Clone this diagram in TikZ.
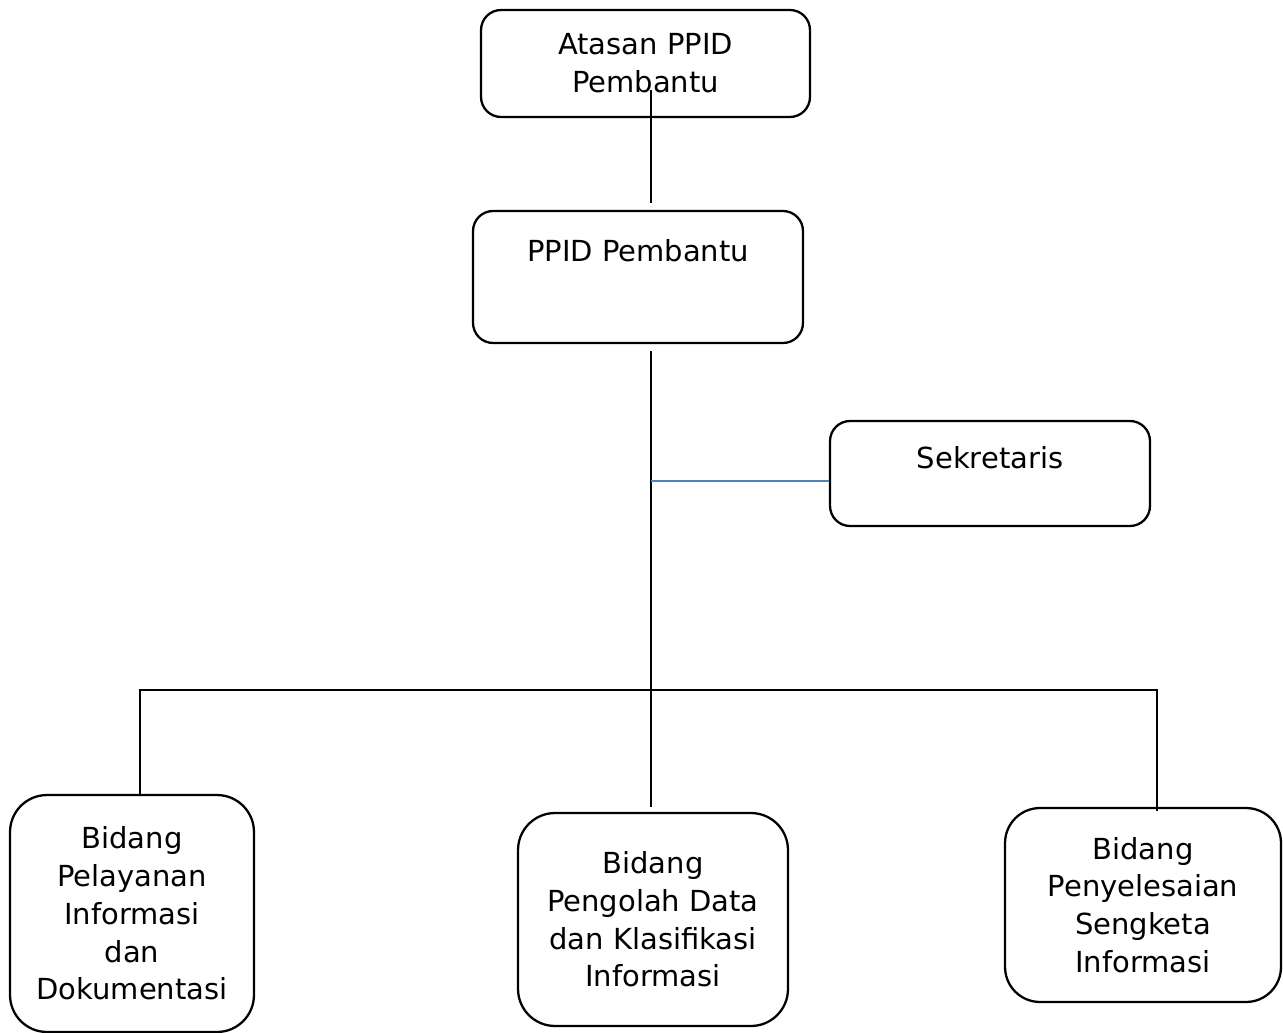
\documentclass[tikz,border=0pt]{standalone}
\usepackage{fontspec}
\setmainfont{DejaVu Sans}
\definecolor{sekblue}{RGB}{79,129,189}
\tikzset{
  orgbox/.style={draw, line width=1.3pt, rounded corners=#1, align=center,
    inner sep=0pt, font=\fontsize{16.5}{21.5}\selectfont},
  orgbox/.default=0.4cm,
  link/.style={line width=1.3pt},
  sekline/.style={line width=1pt, draw=sekblue},
}
\begin{document}
\begin{tikzpicture}[x=0.02cm, y=-0.02cm]
    \useasboundingbox (0,0) rectangle (1283,1033);
    % top of the chart
    \node[orgbox, minimum width=6.58cm, minimum height=2.14cm] (atasan) at (645.5,63.5) {Atasan PPID\\Pembantu};
    \node[orgbox, minimum width=6.6cm, text height=1.0cm, text depth=1.64cm] (ppid) at (638,277) {PPID Pembantu};
    \node[orgbox, minimum width=6.4cm, text height=0.94cm, text depth=1.16cm] (sekretaris) at (990,473.5) {Sekretaris};
    % the three fields
    \node[orgbox=0.74cm, minimum width=4.88cm, minimum height=4.74cm] (pelayanan) at (132,913.5) {Bidang\\Pelayanan\\Informasi\\dan\\Dokumentasi};
    \node[orgbox=0.74cm, minimum width=5.4cm, minimum height=4.26cm] (olah) at (653,919.5) {Bidang\\Pengolah Data\\dan Klasifikasi\\Informasi};
    \node[orgbox=0.7cm, minimum width=5.52cm, minimum height=3.88cm] (sengketa) at (1143,905) {Bidang\\Penyelesaian\\Sengketa\\Informasi};
    % lines
    \coordinate (spine) at (651,90);
    \coordinate (sekin) at ([yshift=-0.15cm]sekretaris.west);
    \coordinate (busL) at (140,690);
    \coordinate (busR) at (1157,690);
    \draw[link, shorten >=0.14cm] (spine) -- (spine |- ppid.north);
    \draw[link, shorten <=0.14cm, shorten >=0.1cm] (spine |- ppid.south) -- (spine |- olah.north);
    \draw[sekline] (spine |- sekin) -- (sekin);
    \draw[link, shorten >=-0.08cm] (busL |- pelayanan.north) -- (busL) -- (busR) -- (busR |- sengketa.north);
\end{tikzpicture}
\end{document}
